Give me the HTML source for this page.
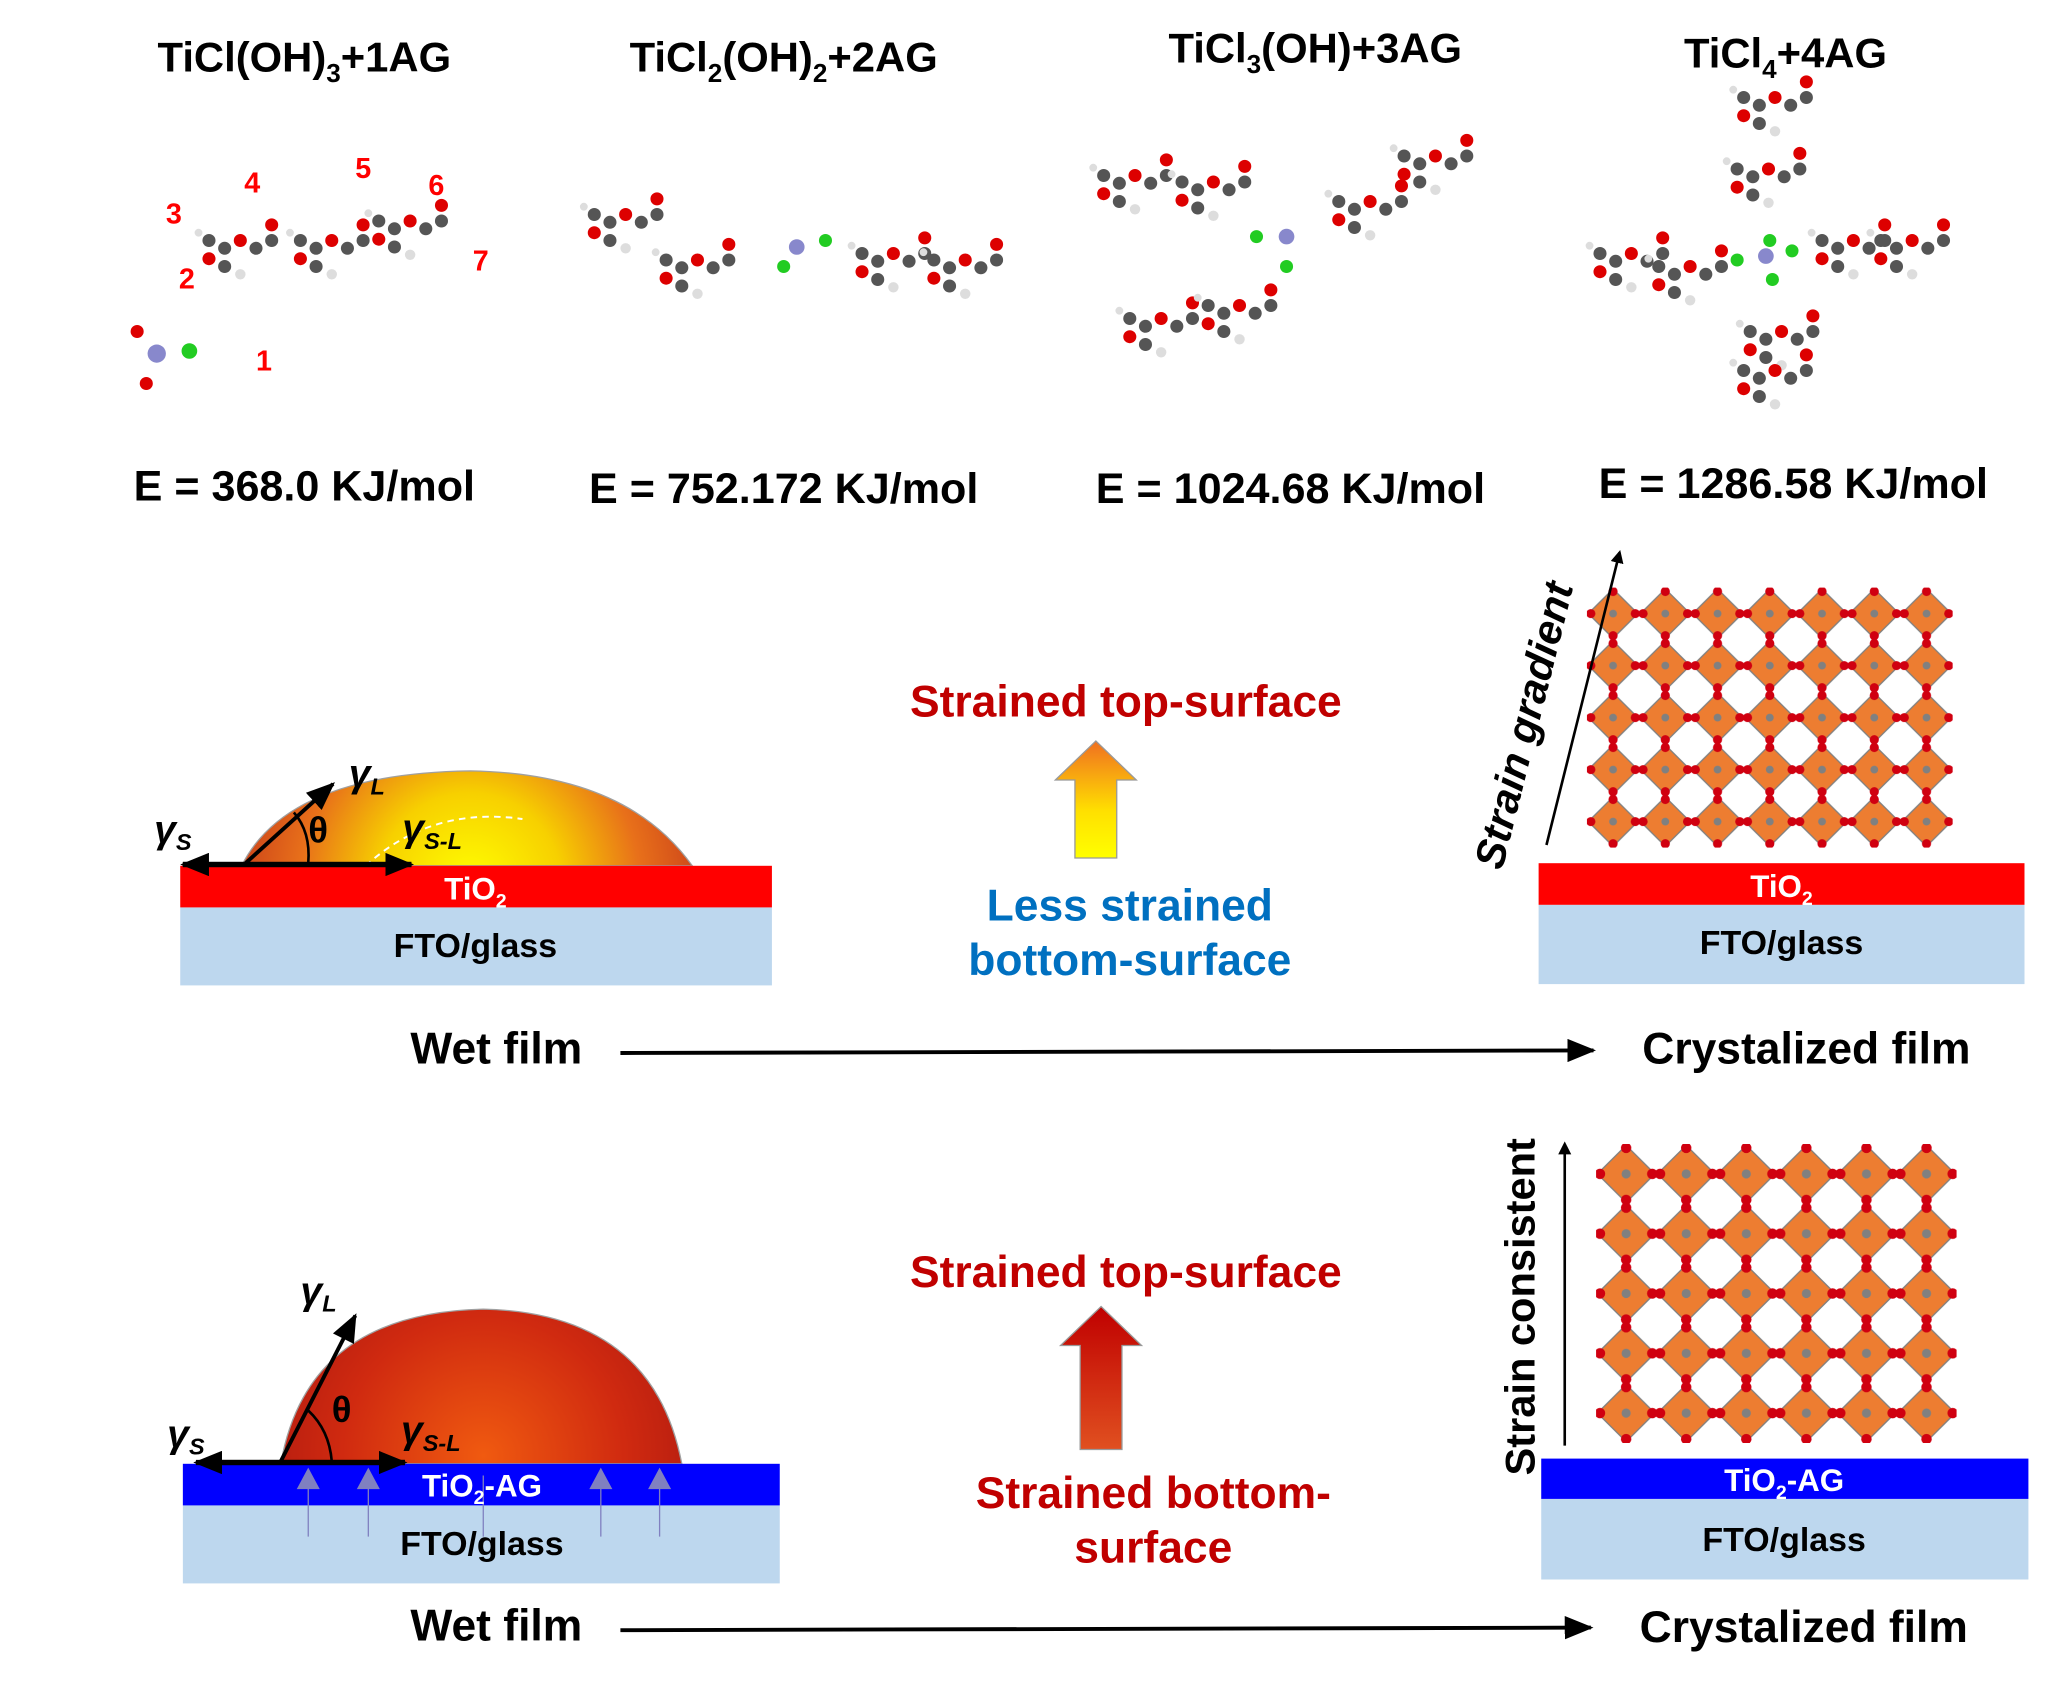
<!DOCTYPE html>
<html><head><meta charset="utf-8"><style>
html,body{margin:0;padding:0;background:#fff;}
svg{display:block;}
text{font-family:"Liberation Sans",Arial,sans-serif;font-weight:bold;}
</style></head><body>
<svg width="2048" height="1690" viewBox="0 0 1568 1300" preserveAspectRatio="none" xmlns="http://www.w3.org/2000/svg">
<defs>
<radialGradient id="drop1" cx="360" cy="680" r="200" gradientUnits="userSpaceOnUse">
<stop offset="0" stop-color="#ffff00"/><stop offset="0.35" stop-color="#f7d000"/><stop offset="0.65" stop-color="#e8701a"/><stop offset="1" stop-color="#c0301a"/>
</radialGradient>
<radialGradient id="drop2" cx="370" cy="1120" r="180" gradientUnits="userSpaceOnUse">
<stop offset="0" stop-color="#f05a10"/><stop offset="0.6" stop-color="#d02a10"/><stop offset="1" stop-color="#b01a10"/>
</radialGradient>
<linearGradient id="arr1" x1="0" y1="0" x2="0" y2="1"><stop offset="0" stop-color="#f07020"/><stop offset="0.6" stop-color="#ffe000"/><stop offset="1" stop-color="#ffff00"/></linearGradient>
<linearGradient id="arr2" x1="0" y1="0" x2="0" y2="1"><stop offset="0" stop-color="#c00000"/><stop offset="1" stop-color="#e05020"/></linearGradient>
<pattern id="lat" x="1215" y="452" width="40" height="40" patternUnits="userSpaceOnUse">
<polygon points="20,1 39,20 20,39 1,20" fill="#ed7d31" stroke="#7f7f7f" stroke-width="1"/>
<circle cx="20" cy="20" r="3" fill="#808080"/>
<g fill="#d00010"><circle cx="20" cy="3" r="3.5"/><circle cx="3" cy="20" r="3.5"/><circle cx="37" cy="20" r="3.5"/><circle cx="20" cy="37" r="3.5"/></g>
</pattern>
<pattern id="lat2" x="1222" y="880" width="46" height="46" patternUnits="userSpaceOnUse">
<polygon points="23,1 45,23 23,45 1,23" fill="#ed7d31" stroke="#7f7f7f" stroke-width="1"/>
<circle cx="23" cy="23" r="3.5" fill="#808080"/>
<g fill="#d00010"><circle cx="23" cy="3" r="4"/><circle cx="3" cy="23" r="4"/><circle cx="43" cy="23" r="4"/><circle cx="23" cy="43" r="4"/></g>
</pattern>
<marker id="ah" markerWidth="10" markerHeight="10" refX="8" refY="5" orient="auto" markerUnits="userSpaceOnUse"><path d="M0,0 L10,5 L0,10 Z" fill="#000"/></marker>
<marker id="ahb" markerWidth="22" markerHeight="18" refX="20" refY="9" orient="auto" markerUnits="userSpaceOnUse"><path d="M0,0 L22,9 L0,18 Z" fill="#000"/></marker>
<g id="mol">
<circle cx="0" cy="0" r="5" fill="#555"/><circle cx="12" cy="6" r="5" fill="#555"/><circle cx="24" cy="0" r="5" fill="#d00"/><circle cx="36" cy="6" r="5" fill="#555"/><circle cx="12" cy="20" r="5" fill="#555"/><circle cx="0" cy="14" r="5" fill="#d00"/><circle cx="48" cy="0" r="5" fill="#555"/><circle cx="24" cy="26" r="4" fill="#ddd"/><circle cx="-8" cy="-6" r="3" fill="#ddd"/><circle cx="48" cy="-12" r="5" fill="#d00"/>
</g>
</defs>

<!-- titles -->
<text x="233" y="55" font-size="32" text-anchor="middle">TiCl(OH)<tspan font-size="20" dy="8">3</tspan><tspan dy="-8">+1AG</tspan></text>
<text x="600" y="55" font-size="32" text-anchor="middle">TiCl<tspan font-size="20" dy="8">2</tspan><tspan dy="-8">(OH)</tspan><tspan font-size="20" dy="8">2</tspan><tspan dy="-8">+2AG</tspan></text>
<text x="1007" y="48" font-size="32" text-anchor="middle">TiCl<tspan font-size="20" dy="8">3</tspan><tspan dy="-8">(OH)+3AG</tspan></text>
<text x="1367" y="52" font-size="32" text-anchor="middle">TiCl<tspan font-size="20" dy="8">4</tspan><tspan dy="-8">+4AG</tspan></text>

<!-- molecules -->
<use href="#mol" x="160" y="185"/><use href="#mol" x="230" y="185"/><use href="#mol" x="290" y="170"/>
<circle cx="120" cy="272" r="7" fill="#8888cc"/><circle cx="145" cy="270" r="6" fill="#2c2"/><circle cx="105" cy="255" r="5" fill="#d00"/><circle cx="112" cy="295" r="5" fill="#d00"/>
<g fill="#f00" font-size="22"><text x="127" y="172">3</text><text x="187" y="148">4</text><text x="272" y="137">5</text><text x="328" y="150">6</text><text x="362" y="208">7</text><text x="137" y="222">2</text><text x="196" y="285">1</text></g>
<use href="#mol" x="455" y="165"/><use href="#mol" x="510" y="200"/><use href="#mol" x="660" y="195"/><use href="#mol" x="715" y="200"/>
<circle cx="610" cy="190" r="6" fill="#8888cc"/><circle cx="632" cy="185" r="5" fill="#2c2"/><circle cx="600" cy="205" r="5" fill="#2c2"/>
<use href="#mol" x="845" y="135"/><use href="#mol" x="905" y="140"/><use href="#mol" x="1025" y="155"/><use href="#mol" x="1075" y="120"/><use href="#mol" x="865" y="245"/><use href="#mol" x="925" y="235"/>
<circle cx="985" cy="182" r="6" fill="#8888cc"/><circle cx="962" cy="182" r="5" fill="#2c2"/><circle cx="985" cy="205" r="5" fill="#2c2"/>
<use href="#mol" x="1335" y="75"/><use href="#mol" x="1330" y="130"/><use href="#mol" x="1225" y="195"/><use href="#mol" x="1270" y="205"/><use href="#mol" x="1395" y="185"/><use href="#mol" x="1440" y="185"/><use href="#mol" x="1340" y="255"/><use href="#mol" x="1335" y="285"/>
<circle cx="1352" cy="197" r="6" fill="#8888cc"/><circle cx="1330" cy="200" r="5" fill="#2c2"/><circle cx="1372" cy="193" r="5" fill="#2c2"/><circle cx="1355" cy="185" r="5" fill="#2c2"/><circle cx="1357" cy="215" r="5" fill="#2c2"/>

<!-- energies -->
<g font-size="33"><text x="233" y="385" text-anchor="middle">E = 368.0 KJ/mol</text><text x="600" y="387" text-anchor="middle">E = 752.172 KJ/mol</text><text x="988" y="387" text-anchor="middle">E = 1024.68 KJ/mol</text><text x="1373" y="383" text-anchor="middle">E = 1286.58 KJ/mol</text></g>

<!-- top-left droplet -->
<rect x="138" y="698" width="453" height="60" fill="#bdd7ee"/>
<path d="M185,666 Q220,595 360,593 Q480,595 530,666 Z" fill="url(#drop1)" stroke="#a0a0a0" stroke-width="1"/>
<path d="M280,666 Q330,620 400,630" fill="none" stroke="#fff" stroke-dasharray="5,4" stroke-width="1.5"/>
<rect x="138" y="666" width="453" height="32" fill="#ff0000"/>
<text x="364" y="692" font-size="24" fill="#fff" text-anchor="middle">TiO<tspan font-size="15" dy="6">2</tspan></text>
<text x="364" y="736" font-size="26" text-anchor="middle">FTO/glass</text>
<line x1="140" y1="665" x2="315" y2="665" stroke="#000" stroke-width="4" marker-end="url(#ahb)"/>
<line x1="315" y1="665" x2="140" y2="665" stroke="#000" stroke-width="4" marker-end="url(#ahb)"/>
<line x1="188" y1="664" x2="255" y2="603" stroke="#000" stroke-width="3" marker-end="url(#ahb)"/>
<path d="M225,625 Q238,640 236,664" fill="none" stroke="#000" stroke-width="2"/>
<g font-style="italic" font-size="30"><text x="118" y="648">γ<tspan font-size="18" dy="6">S</tspan></text><text x="267" y="605">γ<tspan font-size="18" dy="6">L</tspan></text><text x="308" y="647">γ<tspan font-size="18" dy="6">S-L</tspan></text></g>
<text x="236" y="648" font-size="28">θ</text>

<!-- center top -->
<text x="862" y="551" font-size="34" fill="#c00000" text-anchor="middle">Strained top-surface</text>
<path d="M839,570 L870,600 L855,600 L855,660 L823,660 L823,600 L808,600 Z" fill="url(#arr1)" stroke="#999" stroke-width="1"/>
<text x="865" y="708" font-size="34" fill="#0070c0" text-anchor="middle">Less strained</text>
<text x="865" y="750" font-size="34" fill="#0070c0" text-anchor="middle">bottom-surface</text>

<!-- right top lattice -->
<rect x="1215" y="452" width="280" height="200" fill="url(#lat)"/>
<rect x="1178" y="696" width="372" height="61" fill="#bdd7ee"/>
<rect x="1178" y="664" width="372" height="32" fill="#ff0000"/>
<text x="1364" y="690" font-size="24" fill="#fff" text-anchor="middle">TiO<tspan font-size="15" dy="6">2</tspan></text>
<text x="1364" y="734" font-size="26" text-anchor="middle">FTO/glass</text>
<line x1="1184" y1="650" x2="1240" y2="425" stroke="#000" stroke-width="2" marker-end="url(#ah)"/>
<text transform="translate(1150,670) rotate(-76)" font-size="32" font-style="italic">Strain gradient</text>

<!-- arrow 1 -->
<text x="380" y="818" font-size="34" text-anchor="middle">Wet film</text>
<line x1="475" y1="810" x2="1220" y2="808" stroke="#000" stroke-width="3" marker-end="url(#ahb)"/>
<text x="1383" y="818" font-size="34" text-anchor="middle">Crystalized film</text>

<!-- bottom-left droplet -->
<rect x="140" y="1158" width="457" height="60" fill="#bdd7ee"/>
<path d="M215,1126 Q235,1010 370,1007 Q500,1010 522,1126 Z" fill="url(#drop2)" stroke="#a0a0a0" stroke-width="1"/>
<rect x="140" y="1126" width="457" height="32" fill="#0000ff"/>
<g stroke="#8080c0" stroke-width="1" fill="#8080c0"><line x1="236" y1="1182" x2="236" y2="1135"/><line x1="282" y1="1182" x2="282" y2="1135"/><line x1="370" y1="1182" x2="370" y2="1135"/><line x1="460" y1="1182" x2="460" y2="1135"/><line x1="505" y1="1182" x2="505" y2="1135"/>
<path d="M228,1145 L236,1130 L244,1145Z M274,1145 L282,1130 L290,1145Z M452,1145 L460,1130 L468,1145Z M497,1145 L505,1130 L513,1145Z"/></g>
<text x="369" y="1151" font-size="24" fill="#fff" text-anchor="middle">TiO<tspan font-size="15" dy="6">2</tspan><tspan dy="-6">-AG</tspan></text>
<text x="369" y="1196" font-size="26" text-anchor="middle">FTO/glass</text>
<line x1="160" y1="1125" x2="310" y2="1125" stroke="#000" stroke-width="4" marker-end="url(#ahb)"/>
<line x1="310" y1="1125" x2="150" y2="1125" stroke="#000" stroke-width="4" marker-end="url(#ahb)"/>
<line x1="215" y1="1124" x2="272" y2="1012" stroke="#000" stroke-width="3" marker-end="url(#ahb)"/>
<path d="M236,1085 Q252,1100 254,1124" fill="none" stroke="#000" stroke-width="2"/>
<g font-style="italic" font-size="30"><text x="128" y="1113">γ<tspan font-size="18" dy="6">S</tspan></text><text x="230" y="1003">γ<tspan font-size="18" dy="6">L</tspan></text><text x="307" y="1110">γ<tspan font-size="18" dy="6">S-L</tspan></text></g>
<text x="254" y="1094" font-size="28">θ</text>

<!-- center bottom -->
<text x="862" y="990" font-size="34" fill="#c00000" text-anchor="middle">Strained top-surface</text>
<path d="M843,1005 L874,1035 L859,1035 L859,1115 L827,1115 L827,1035 L812,1035 Z" fill="url(#arr2)" stroke="#999" stroke-width="1"/>
<text x="883" y="1160" font-size="34" fill="#c00000" text-anchor="middle">Strained bottom-</text>
<text x="883" y="1202" font-size="34" fill="#c00000" text-anchor="middle">surface</text>

<!-- right bottom lattice -->
<rect x="1222" y="880" width="276" height="230" fill="url(#lat2)"/>
<rect x="1180" y="1153" width="373" height="62" fill="#bdd7ee"/>
<rect x="1180" y="1122" width="373" height="31" fill="#0000ff"/>
<text x="1366" y="1147" font-size="24" fill="#fff" text-anchor="middle">TiO<tspan font-size="15" dy="6">2</tspan><tspan dy="-6">-AG</tspan></text>
<text x="1366" y="1193" font-size="26" text-anchor="middle">FTO/glass</text>
<line x1="1198" y1="1112" x2="1198" y2="880" stroke="#000" stroke-width="2" marker-end="url(#ah)"/>
<text transform="translate(1175,1135) rotate(-90)" font-size="32">Strain consistent</text>

<!-- arrow 2 -->
<text x="380" y="1262" font-size="34" text-anchor="middle">Wet film</text>
<line x1="475" y1="1254" x2="1218" y2="1252" stroke="#000" stroke-width="3" marker-end="url(#ahb)"/>
<text x="1381" y="1263" font-size="34" text-anchor="middle">Crystalized film</text>
</svg>
</body></html>
